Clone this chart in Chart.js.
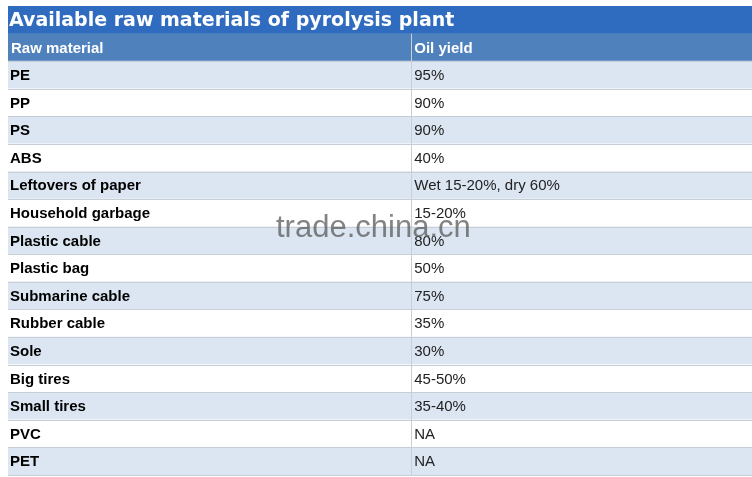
<!DOCTYPE html>
<html><head><meta charset="utf-8">
<script src="https://cdn.jsdelivr.net/npm/chart.js@4"></script>
<style>html,body{margin:0;padding:0;background:#fff}#w{width:752px;height:477px}</style>
</head><body><div id="w"><canvas id="c"></canvas></div>
<script>
const title = "Available raw materials of pyrolysis plant";
const headers = ["Raw material", "Oil yield"];
const materials = ["PE","PP","PS","ABS","Leftovers of paper","Household garbage","Plastic cable","Plastic bag","Submarine cable","Rubber cable","Sole","Big tires","Small tires","PVC","PET"];
const yields = ["95%","90%","90%","40%","Wet 15-20%, dry 60%","15-20%","80%","50%","75%","35%","30%","45-50%","35-40%","NA","NA"];
const splitAt = 0.542;

const labels = ["__title","__header"].concat(materials);
const colors = labels.map((l,i)=> i===0 ? "#2f6bbf" : i===1 ? "#4f81bd" : ((i-2)%2===0 ? "#dce6f2" : "#ffffff"));

const textPlugin = {
  id:"tableText",
  afterDatasetsDraw(chart){
    const ctx = chart.ctx, xs = chart.scales.x, ys = chart.scales.y;
    const x0 = xs.getPixelForValue(0), xm = xs.getPixelForValue(splitAt), x1 = xs.getPixelForValue(1);
    const step = ys.getPixelForValue(1) - ys.getPixelForValue(0);
    ctx.save();
    ctx.textBaseline = "middle";
    ctx.strokeStyle = "#c8ced6"; ctx.lineWidth = 1;
    for (let i=1;i<labels.length;i++){
      const y = Math.round(ys.getPixelForValue(i) + step/2) + 0.5;
      ctx.beginPath(); ctx.moveTo(x0,y); ctx.lineTo(x1,y); ctx.stroke();
    }
    ctx.beginPath();
    ctx.moveTo(Math.round(xm)+0.5, ys.getPixelForValue(1)-step/2);
    ctx.lineTo(Math.round(xm)+0.5, ys.getPixelForValue(labels.length-1)+step/2);
    ctx.stroke();
    ctx.fillStyle = "#fff";
    ctx.font = "900 19px 'DejaVu Sans', 'Liberation Sans', sans-serif";
    ctx.fillText(title, x0+1, ys.getPixelForValue(0)+1);
    ctx.font = "bold 15px 'Liberation Sans', Arial, sans-serif";
    ctx.fillText(headers[0], x0+3, ys.getPixelForValue(1)+1);
    ctx.fillText(headers[1], xm+3, ys.getPixelForValue(1)+1);
    materials.forEach((m,i)=>{
      const y = ys.getPixelForValue(i+2)+1;
      ctx.fillStyle = "#000";
      ctx.font = "bold 15px 'Liberation Sans', Arial, sans-serif";
      ctx.fillText(m, x0+2, y);
      ctx.font = "15px 'Liberation Sans', Arial, sans-serif";
      ctx.fillStyle = "#222";
      ctx.fillText(yields[i], xm+3, y);
    });
    ctx.fillStyle = "rgba(90,90,90,0.75)";
    ctx.font = "31px 'Liberation Sans', Arial, sans-serif";
    ctx.fillText("trade.china.cn", 276, 228);
    ctx.restore();
  }
};

new Chart(document.getElementById("c"), {
  type:"bar",
  data:{ labels, datasets:[{ data: labels.map(()=>[0,1]), backgroundColor: colors, borderWidth:0, barPercentage:1, categoryPercentage:1 }]},
  options:{
    indexAxis:"y", responsive:true, maintainAspectRatio:false, animation:false,
    layout:{ padding:{ left:8, right:0, top:6, bottom:2 } },
    plugins:{ legend:{display:false}, tooltip:{enabled:false} },
    scales:{
      x:{ display:false, min:0, max:1 },
      y:{ display:false, offset:true }
    }
  },
  plugins:[textPlugin]
});
</script></body></html>
